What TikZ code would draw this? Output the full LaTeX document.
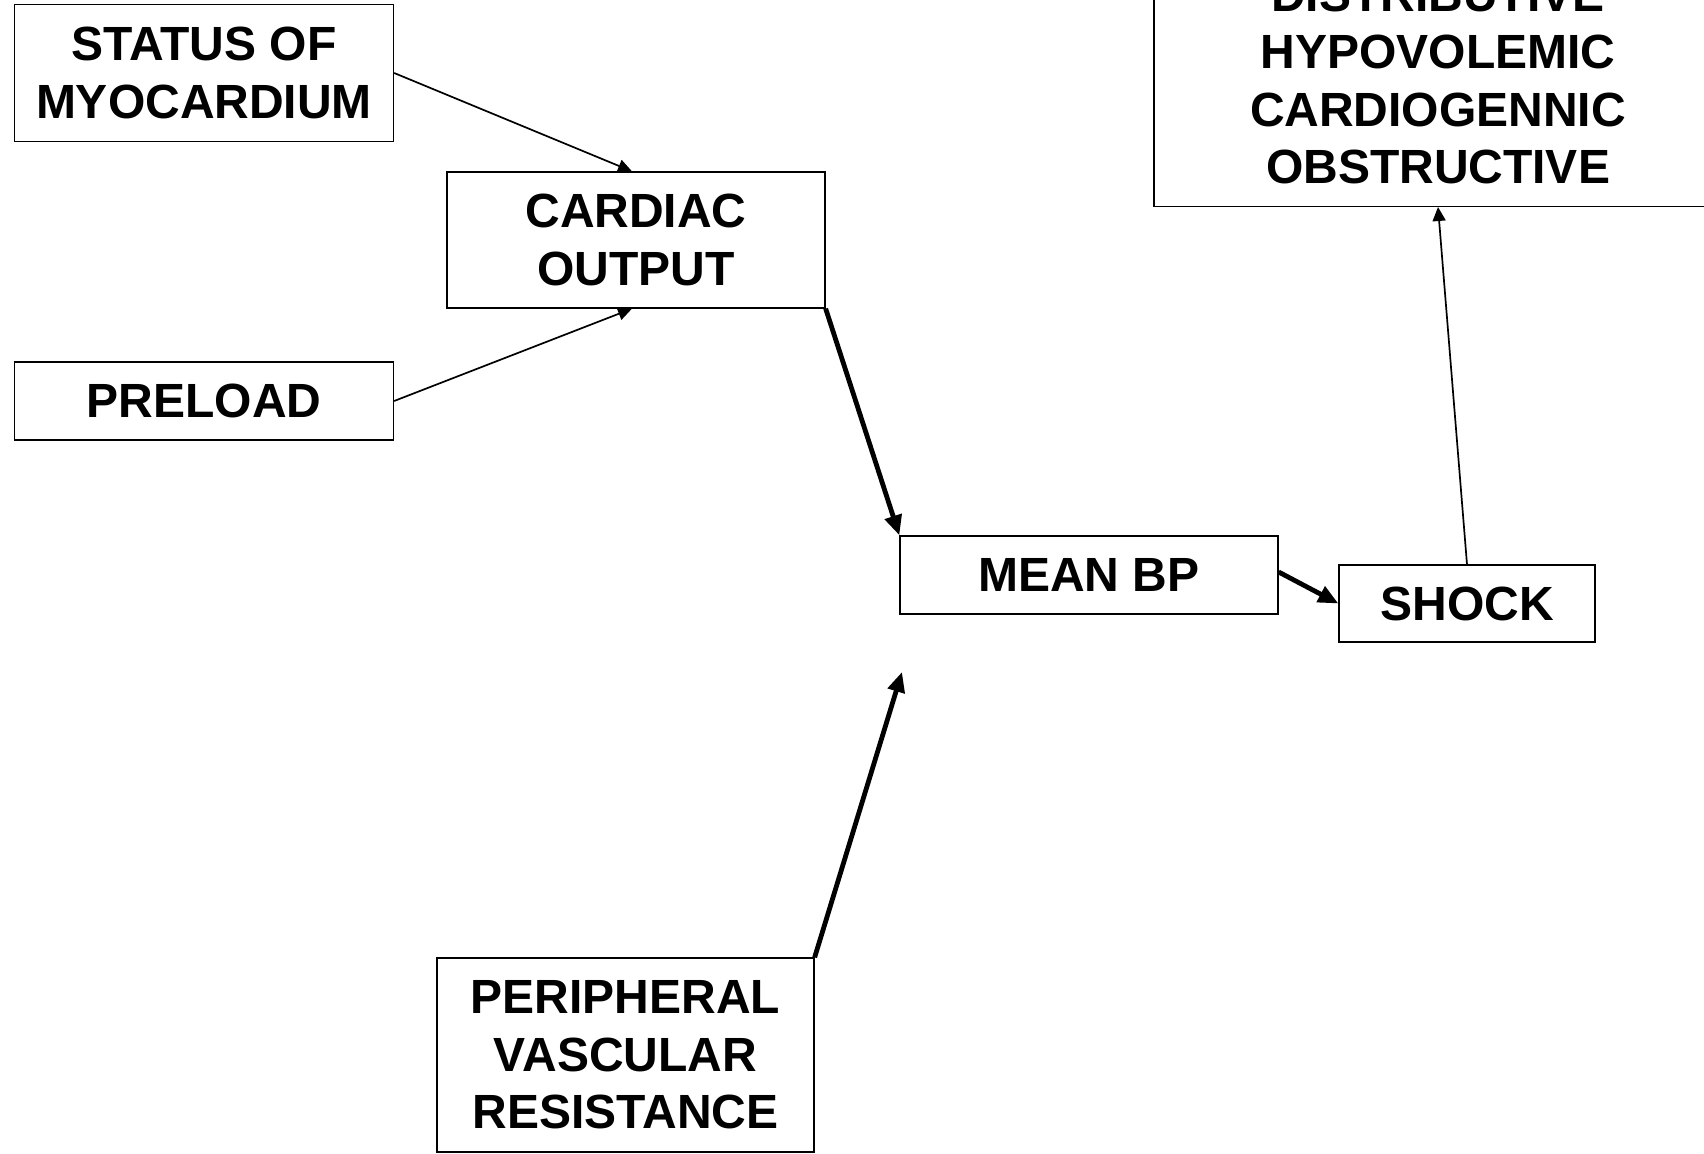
\documentclass[tikz,border=0pt]{standalone}
\usepackage{fontspec}
\setmainfont{Liberation Sans}
\usetikzlibrary{arrows.meta,calc}
\begin{document}
\begin{tikzpicture}[x=0.5pt,y=-0.5pt,
  box/.style={draw=black,line width=0.65pt,inner sep=0pt,align=center,
    font=\fontsize{24}{28.8}\selectfont\bfseries},
  thinarrow/.style={line width=0.85pt,-{Triangle[length=7pt,width=6.5pt]}},
  thickarrow/.style={line width=2.4pt,-{Triangle[length=10pt,width=8.5pt]}}]
\useasboundingbox (0,0) rectangle (1704,1154);
\clip (0,0) rectangle (1704,1154);
\node[box,minimum width=189.5pt,minimum height=68.5pt] (status) at (204,73) {STATUS OF\\MYOCARDIUM};
\node[box,minimum width=189.5pt,minimum height=39pt] (preload) at (204,401) {PRELOAD};
\node[box,minimum width=189pt,minimum height=68pt] (cardiac) at (636,240) {CARDIAC\\OUTPUT};
\node[box,minimum width=189pt,minimum height=39pt] (mean) at (1089,575) {MEAN BP};
\node[box,minimum width=128pt,minimum height=38.5pt] (shock) at (1467,603.5) {SHOCK};
\node[box,minimum width=188.5pt,minimum height=97pt] (pvr) at (625.5,1055) {PERIPHERAL\\VASCULAR\\RESISTANCE};
\node[box,minimum width=284pt,inner ysep=11pt,anchor=south] (types) at (1438,207) {DISTRIBUTIVE\\HYPOVOLEMIC\\CARDIOGENNIC\\OBSTRUCTIVE};
\coordinate (free) at (902,672);
\draw[thinarrow] (status.east) -- ([xshift=-2pt]cardiac.north);
\draw[thinarrow] (preload.east) -- ([xshift=-2pt]cardiac.south);
\draw[thickarrow] (cardiac.south east) -- (mean.north west);
\draw[thickarrow] (pvr.north east) -- (free);
\draw[thickarrow] ([yshift=1.5pt]mean.east) -- (shock.west);
\draw[thinarrow] (shock.north) -- (types.south);
\end{tikzpicture}
\end{document}
